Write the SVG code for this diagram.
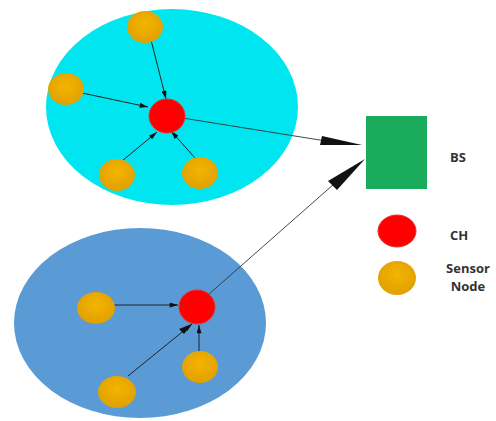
<svg xmlns="http://www.w3.org/2000/svg" width="496" height="421" viewBox="0 0 496 421">
  <style>
    .sensor { fill: url(#gold); }
    .ch { fill: #FF0000; stroke: #E83030; stroke-width: 1; }
    .link { stroke: #222; stroke-width: 1; fill: none; marker-end: url(#small); }
    .uplink { stroke: #333; stroke-width: 0.9; fill: none; }
    .label { font-family: "Open Sans", "DejaVu Sans", sans-serif; font-weight: bold; font-size: 13px; fill: #333; text-anchor: middle; }
  </style>
  <defs>
    <radialGradient id="gold" cx="50%" cy="40%" r="60%">
      <stop offset="0" stop-color="#F4B400"/>
      <stop offset="1" stop-color="#E0A000"/>
    </radialGradient>
    <marker id="small" viewBox="0 0 10 6" refX="10" refY="3" markerWidth="9" markerHeight="5" markerUnits="userSpaceOnUse" orient="auto">
      <path d="M0,0 L10,3 L0,6 Z" fill="#111"/>
    </marker>
  </defs>

  <!-- clusters -->
  <g id="cluster-top">
    <ellipse cx="172" cy="107" rx="126" ry="98" fill="#00E6F0"/>
  </g>
  <g id="cluster-bottom">
    <ellipse cx="140" cy="323" rx="126" ry="95" fill="#5B9BD5"/>
  </g>

  <!-- connectors -->
  <g id="connectors">
    <line class="link" x1="151" y1="40" x2="166" y2="99"/>
    <line class="link" x1="82" y1="93" x2="148" y2="107"/>
    <line class="link" x1="122" y1="161" x2="157" y2="132"/>
    <line class="link" x1="195" y1="158" x2="171" y2="131"/>
    <line class="uplink" x1="170" y1="116" x2="326" y2="141"/>
    <path d="M362,145 L322,136 L320,145 Z" fill="#111"/>

    <line class="link" x1="106" y1="305" x2="178" y2="305"/>
    <line class="link" x1="199" y1="355" x2="199" y2="325"/>
    <line class="link" x1="128" y1="376" x2="192" y2="324"/>
    <path d="M192,324 L184,334 L179,329 Z" fill="#111"/>
    <line class="uplink" x1="200" y1="302" x2="334" y2="184"/>
    <path d="M365,159 L337,190 L328,181 Z" fill="#111"/>
  </g>

  <!-- top cluster nodes -->
  <g id="s1"><ellipse class="sensor" cx="145" cy="27" rx="18" ry="16"/></g>
  <g id="s2"><ellipse class="sensor" cx="66" cy="89" rx="18" ry="16"/></g>
  <g id="s3"><ellipse class="sensor" cx="117" cy="175" rx="18" ry="16"/></g>
  <g id="s4"><ellipse class="sensor" cx="200" cy="173" rx="18" ry="16"/></g>
  <g id="ch1"><ellipse class="ch" cx="167" cy="116" rx="18" ry="17"/></g>

  <!-- bottom cluster nodes -->
  <g id="s5"><ellipse class="sensor" cx="96" cy="308" rx="19" ry="16"/></g>
  <g id="s6"><ellipse class="sensor" cx="200" cy="367" rx="18" ry="16"/></g>
  <g id="s7"><ellipse class="sensor" cx="117" cy="392" rx="19" ry="16"/></g>
  <g id="ch2"><ellipse class="ch" cx="197" cy="307" rx="18" ry="17"/></g>

  <!-- base station -->
  <g id="bs">
    <rect x="366" y="116" width="61" height="73" fill="#1AAB5C"/>
    <text class="label" x="458" y="162">BS</text>
  </g>

  <!-- legend -->
  <g id="legend-ch">
    <ellipse class="ch" cx="397" cy="231" rx="19" ry="16"/>
    <text class="label" x="459" y="240">CH</text>
  </g>
  <g id="legend-sensor">
    <ellipse class="sensor" cx="397" cy="278" rx="19" ry="17"/>
    <text class="label" x="468" y="273">Sensor</text>
    <text class="label" x="468" y="291">Node</text>
  </g>
</svg>
